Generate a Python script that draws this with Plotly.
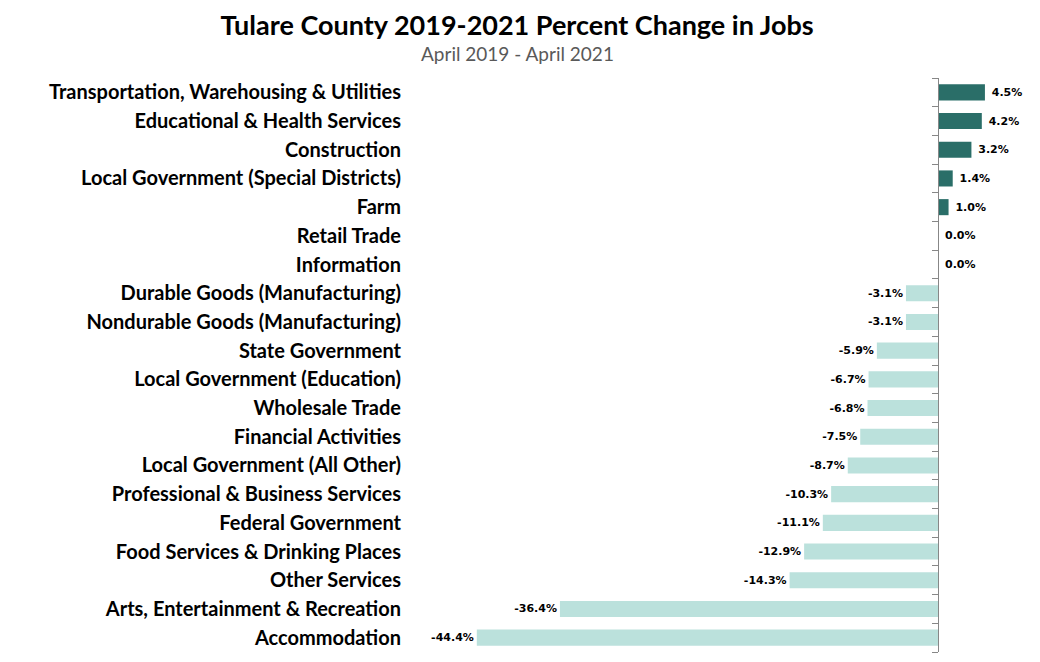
import plotly.graph_objects as go

# Industry sectors, top to bottom as shown
categories = [
    "Transportation, Warehousing & Utilities",
    "Educational & Health Services",
    "Construction",
    "Local Government (Special Districts)",
    "Farm",
    "Retail Trade",
    "Information",
    "Durable Goods (Manufacturing)",
    "Nondurable Goods (Manufacturing)",
    "State Government",
    "Local Government (Education)",
    "Wholesale Trade",
    "Financial Activities",
    "Local Government (All Other)",
    "Professional & Business Services",
    "Federal Government",
    "Food Services & Drinking Places",
    "Other Services",
    "Arts, Entertainment & Recreation",
    "Accommodation",
]
pct_change = [4.5, 4.2, 3.2, 1.4, 1.0, 0.0, 0.0, -3.1, -3.1, -5.9, -6.7,
              -6.8, -7.5, -8.7, -10.3, -11.1, -12.9, -14.3, -36.4, -44.4]

POS_COLOR = "#2A6E68"
NEG_COLOR = "#BBE1DC"
AXIS_GRAY = "#878787"

# layout in figure pixels (page is rendered with an 8px body margin)
W, H = 1040, 662
ML, MR, MT, MB = 394, 8, 69.5, 17.5
x_min, x_max = -51.6, 9.8
n = len(categories)
idx = list(range(n))

bar_colors = [POS_COLOR if v > 0 else NEG_COLOR for v in pct_change]
labels = [(" " if v >= 0 else "") + f"{v:.1f}%" for v in pct_change]

fig = go.Figure()

fig.add_trace(go.Bar(
    x=pct_change,
    y=categories,
    orientation="h",
    marker=dict(color=bar_colors, line_width=0),
    width=0.56,
    text=labels,
    textposition="outside",
    cliponaxis=False,
    textfont=dict(family="DejaVu Sans", size=11, color="#000000", weight="bold"),
    hoverinfo="skip",
    showlegend=False,
))

# invisible trace carrying the zero axis with ticks between categories
fig.add_trace(go.Scatter(
    x=[0] * n,
    y=idx,
    yaxis="y2",
    mode="markers",
    marker=dict(opacity=0),
    hoverinfo="skip",
    showlegend=False,
))

plot_w = W - ML - MR
plot_h = H - MT - MB

fig.update_layout(
    width=W,
    height=H,
    margin=dict(l=ML, r=MR, t=MT, b=MB),
    paper_bgcolor="white",
    plot_bgcolor="white",
    title=dict(
        text="Tulare County 2019-2021 Percent Change in Jobs",
        x=509 / W,
        xanchor="center",
        y=1 - 17.5 / H,
        yanchor="middle",
        font=dict(family="Lato", size=27, color="#000000", weight="bold"),
    ),
    xaxis=dict(
        range=[x_min, x_max],
        visible=False,
        showgrid=False,
        zeroline=False,
    ),
    yaxis=dict(
        categoryorder="array",
        categoryarray=categories,
        range=[n - 0.5, -0.5],
        showline=False,
        showgrid=False,
        ticks="",
        automargin=False,
        tickfont=dict(family="Lato", size=20, color="#000000", weight="bold"),
    ),
    yaxis2=dict(
        overlaying="y",
        anchor="free",
        position=(0 - x_min) / (x_max - x_min),
        side="left",
        range=[n - 0.5, -0.5],
        tickmode="array",
        tickvals=[i - 0.5 for i in range(n + 1)],
        showticklabels=False,
        showgrid=False,
        zeroline=False,
        showline=True,
        linecolor=AXIS_GRAY,
        linewidth=1,
        ticks="outside",
        ticklen=6,
        tickcolor=AXIS_GRAY,
        tickwidth=1,
    ),
    annotations=[dict(
        text="April 2019 - April 2021",
        xref="paper", yref="paper",
        x=(509 - ML) / plot_w,
        y=1 + (MT - 45) / plot_h,
        xanchor="center", yanchor="middle",
        showarrow=False,
        font=dict(family="Lato", size=19, color="#595959"),
    )],
)

fig.write_html("out.html")
